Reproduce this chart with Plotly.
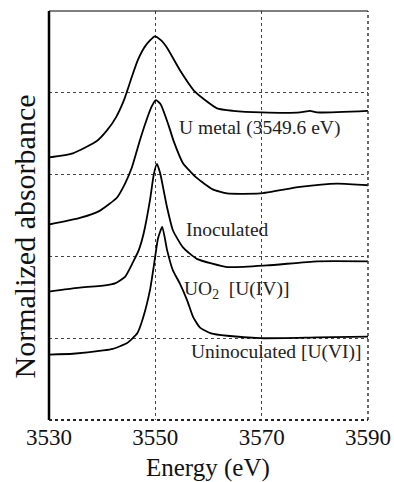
import plotly.graph_objects as go

# Energy (eV) and normalized absorbance (offset units)
e_metal = [3530, 3534.5, 3539.0, 3540.9, 3542.6, 3544.1, 3545.4, 3546.7, 3548.2, 3549.9,
           3551.1, 3552.2, 3554.6, 3557.5, 3561.6, 3564.6, 3570.0, 3577.2, 3579.1, 3580.4, 3590]
a_metal = [3.21, 3.26, 3.41, 3.54, 3.70, 3.91, 4.16, 4.40, 4.58, 4.69,
           4.64, 4.55, 4.28, 4.01, 3.81, 3.78, 3.76, 3.76, 3.78, 3.76, 3.78]

e_inoc = [3530, 3535.8, 3539.6, 3542.8, 3544.3, 3545.6, 3547.1, 3548.2, 3549.3, 3550.1,
          3551.0, 3552.4, 3553.5, 3555.2, 3557.8, 3560.8, 3563.5, 3569.7, 3577.2, 3584.2, 3590]
a_inoc = [2.39, 2.47, 2.56, 2.72, 2.89, 3.09, 3.42, 3.64, 3.83, 3.91,
          3.86, 3.62, 3.40, 3.14, 2.96, 2.82, 2.77, 2.77, 2.85, 2.89, 2.87]

e_uo2 = [3530, 3534.5, 3540.9, 3542.4, 3544.3, 3545.8, 3546.9, 3547.8, 3549.0, 3549.7, 3550.3,
         3550.9, 3552.2, 3553.3, 3555.2, 3557.8, 3563.5, 3571.0, 3580.4, 3590]
a_uo2 = [1.57, 1.61, 1.65, 1.67, 1.75, 1.93, 2.08, 2.28, 2.69, 3.00, 3.13,
         3.02, 2.60, 2.32, 2.11, 1.97, 1.87, 1.89, 1.94, 1.94]

e_uninoc = [3530, 3534.5, 3540.2, 3542.0, 3544.7, 3546.6, 3547.7, 3549.0, 3549.8, 3550.5, 3551.3,
            3552.2, 3553.3, 3554.6, 3556.0, 3557.1, 3558.4, 3560.5, 3563.5, 3569.7, 3580.4, 3590]
a_uninoc = [0.80, 0.81, 0.85, 0.87, 0.94, 1.06, 1.25, 1.59, 1.92, 2.22, 2.36,
            2.08, 1.83, 1.67, 1.46, 1.26, 1.13, 1.06, 1.03, 1.00, 1.01, 1.02]

x_ticks = [3530, 3550, 3570, 3590]
y_grid = [1, 2, 3, 4]

labels = ["U metal (3549.6 eV)", "Inoculated", "UO<sub>2</sub>  [U(IV)]", "Uninoculated [U(VI)]"]
label_x = [3554.0, 3555.3, 3555.0, 3556.4]
label_y = [3.57, 2.33, 1.59, 0.83]

FONT = "Liberation Serif, Times New Roman, serif"

fig = go.Figure()
for ex, ay in [(e_metal, a_metal), (e_inoc, a_inoc), (e_uo2, a_uo2), (e_uninoc, a_uninoc)]:
    fig.add_trace(go.Scatter(x=ex, y=ay, mode="lines",
                             line=dict(color="black", width=1.8, shape="spline", smoothing=0.5),
                             showlegend=False, hoverinfo="skip"))

for t, lx, ly in zip(labels, label_x, label_y):
    fig.add_annotation(x=lx, y=ly, text=t, showarrow=False, xanchor="left", yanchor="middle",
                       font=dict(family=FONT, size=19.5, color="#222"))

# axis titles
fig.add_annotation(xref="paper", yref="paper", x=0.498, y=-0.154, text="Energy (eV)",
                   showarrow=False, xanchor="center", yanchor="bottom", borderpad=0,
                   font=dict(family=FONT, size=25, color="#111"))
fig.add_annotation(xref="paper", yref="paper", x=-0.078, y=0.449, text="Normalized absorbance",
                   showarrow=False, xanchor="center", yanchor="middle", textangle=-90,
                   font=dict(family=FONT, size=30, color="#111"))

# frame
fig.add_shape(type="line", xref="paper", yref="paper", x0=0, x1=0, y0=0, y1=1,
              line=dict(color="black", width=2.5))
fig.add_shape(type="line", xref="paper", yref="paper", x0=0, x1=1, y0=1, y1=1,
              line=dict(color="black", width=1.2))
fig.add_shape(type="line", xref="paper", yref="paper", x0=1, x1=1, y0=0, y1=1,
              line=dict(color="#333", width=1.5, dash="dot"))
fig.add_shape(type="line", xref="paper", yref="paper", x0=0, x1=1, y0=0, y1=0,
              line=dict(color="#222", width=2, dash="dot"))

fig.update_layout(
    width=394, height=482,
    margin=dict(l=49, r=26, t=11, b=62, autoexpand=False),
    paper_bgcolor="white", plot_bgcolor="white",
    xaxis=dict(range=[3530, 3590], tickvals=x_ticks, ticktext=[str(v) for v in x_ticks],
               showgrid=True, gridcolor="#444", griddash="dot", gridwidth=1,
               showline=False, zeroline=False, ticks="", ticklabelstandoff=1, automargin=False,
               tickfont=dict(family=FONT, size=23, color="#111")),
    yaxis=dict(range=[0, 5], tickvals=y_grid, showticklabels=False, automargin=False,
               showgrid=True, gridcolor="#444", griddash="dot", gridwidth=1,
               showline=False, zeroline=False, ticks=""),
)

# remove the default page margin so the 394x482 figure fills the window exactly
fig.write_html("out.html", config={"displayModeBar": False},
               post_script="document.body.style.margin='0';document.body.style.overflow='hidden';")
